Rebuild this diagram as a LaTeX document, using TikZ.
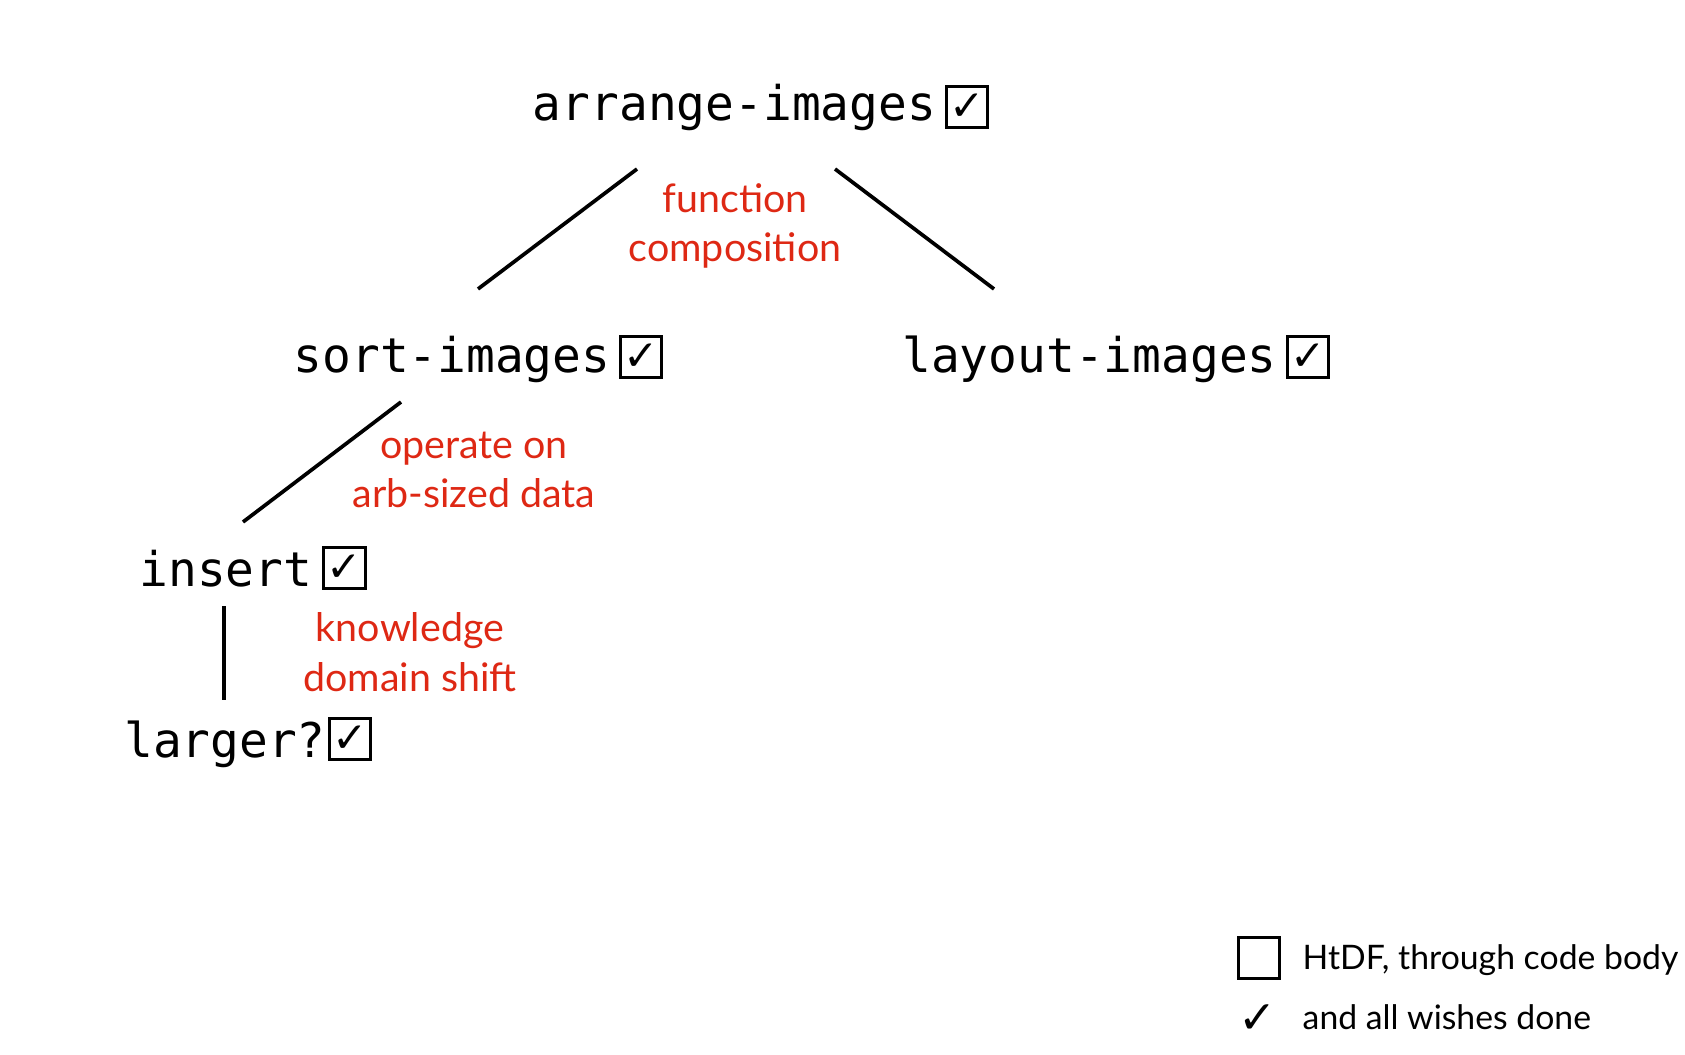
\documentclass[tikz,border=0pt]{standalone}
\usepackage{fontspec}
\setmainfont{Lato}
\newfontfamily\codefont{DejaVu Sans Mono}
\newfontfamily\symfont{DejaVu Sans}
\definecolor{notered}{RGB}{222,40,20}
\tikzset{
  fn/.style={font=\codefont\fontsize{13.6}{16}\selectfont, inner sep=0pt, anchor=base},
  chk/.style={draw, line width=0.85pt, minimum size=0.41cm, inner sep=0pt,
              font=\symfont\fontsize{12}{12}\selectfont},
  note/.style={font=\fontsize{11.2}{14}\selectfont, text=notered, align=center, inner sep=0pt, anchor=base},
  legend/.style={font=\fontsize{9.6}{12}\selectfont, inner sep=0pt, anchor=base west},
  edge/.style={line width=1.05pt}
}
\begin{document}
\begin{tikzpicture}[x=0.01cm,y=-0.01cm]
\useasboundingbox (0,0) rectangle (1685,1055);
% function nodes
\node[fn] (arr) at (734.5,121) {arrange-images};
\node[chk] (arrc) at (967,107) {✓};
\node[fn] (sort) at (452,373) {sort-images};
\node[chk] (sortc) at (641,357) {✓};
\node[fn] (lay) at (1089.5,373) {layout-images};
\node[chk] (layc) at (1308,357) {✓};
\node[fn] (ins) at (226,586) {insert};
\node[chk] (insc) at (344.5,568) {✓};
\node[fn] (lar) at (225,757) {larger?};
\node[chk] (larc) at (350,739) {✓};
% connector end points
\coordinate (a1) at (637,169); \coordinate (s1) at (478,289);
\coordinate (a2) at (835,169); \coordinate (l2) at (994,289);
\coordinate (s3) at (401,402); \coordinate (i3) at (243,522);
\coordinate (i4) at (224,606); \coordinate (g4) at (224,700);
\draw[edge] (a1) -- (s1);
\draw[edge] (a2) -- (l2);
\draw[edge] (s3) -- (i3);
\draw[edge] (i4) -- (g4);
% notes (anchor = baseline of the last line)
\node[note] (n1) at (735,262) {function\\composition};
\node[note] (n2) at (474,508) {operate on\\arb-sized data};
\node[note] (n3) at (410,691) {knowledge\\domain shift};
% legend
\node[chk] (lbox) at (1259,958) {};
\node[legend] (lt1) at (1302,969) {HtDF, through code body};
\node[font=\symfont\bfseries\fontsize{13}{13}\selectfont, inner sep=0pt] (lchk) at (1258,1019) {✓};
\node[legend] (lt2) at (1302,1029) {and all wishes done};
\end{tikzpicture}
\end{document}
